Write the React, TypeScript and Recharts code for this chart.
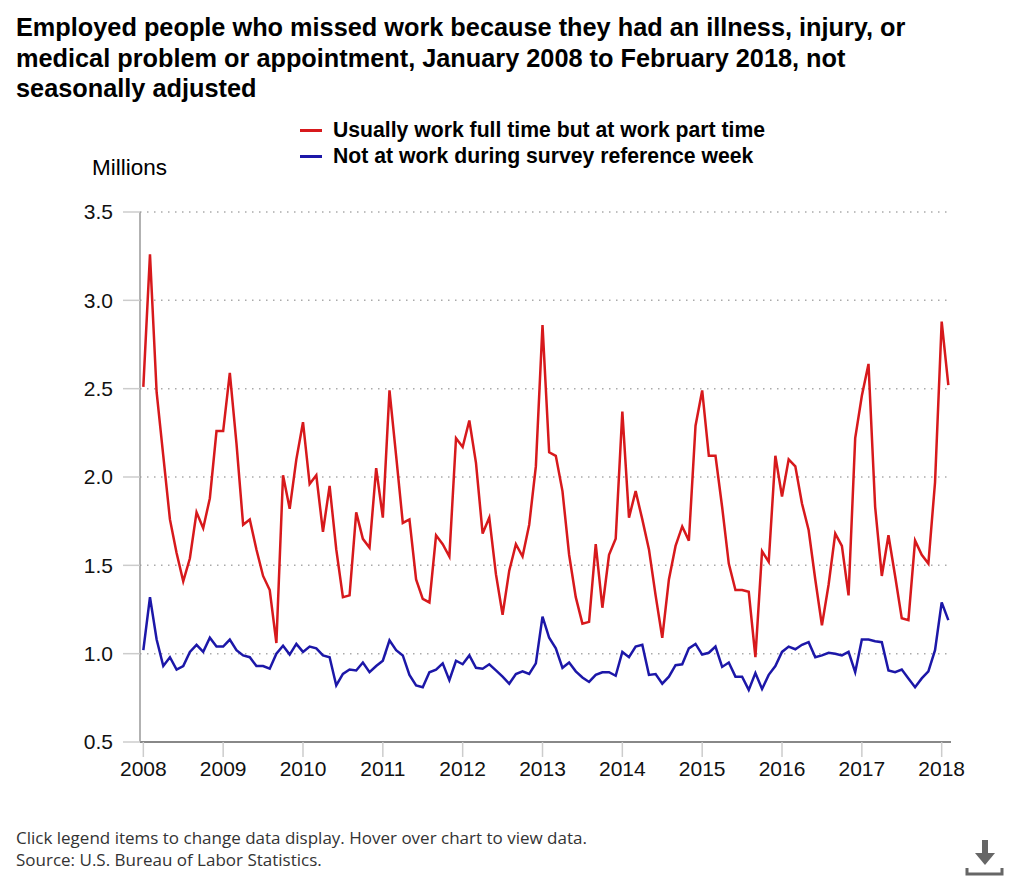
import React from 'react';
import { LineChart, Line, XAxis, YAxis, CartesianGrid } from 'recharts';

// monthly values, Jan 2008 .. Feb 2018 (millions)
const FULL_TIME_PART = [
  // 2008
  2.51, 3.26, 2.48, 2.12, 1.76, 1.57, 1.41, 1.54, 1.80, 1.71, 1.88, 2.26,
  // 2009
  2.26, 2.59, 2.19, 1.73, 1.76, 1.59, 1.44, 1.36, 1.06, 2.01, 1.82, 2.10,
  // 2010
  2.31, 1.96, 2.01, 1.69, 1.95, 1.59, 1.32, 1.33, 1.80, 1.65, 1.60, 2.05,
  // 2011
  1.77, 2.49, 2.12, 1.74, 1.76, 1.42, 1.31, 1.29, 1.67, 1.62, 1.55, 2.22,
  // 2012
  2.17, 2.32, 2.08, 1.68, 1.77, 1.45, 1.22, 1.47, 1.62, 1.55, 1.73, 2.06,
  // 2013
  2.86, 2.14, 2.12, 1.92, 1.56, 1.32, 1.17, 1.18, 1.62, 1.26, 1.56, 1.65,
  // 2014
  2.37, 1.77, 1.92, 1.76, 1.59, 1.33, 1.09, 1.42, 1.61, 1.72, 1.64, 2.29,
  // 2015
  2.49, 2.12, 2.12, 1.83, 1.51, 1.36, 1.36, 1.35, 0.98, 1.58, 1.52, 2.12,
  // 2016
  1.89, 2.10, 2.06, 1.85, 1.70, 1.42, 1.16, 1.39, 1.68, 1.61, 1.33, 2.22,
  // 2017
  2.46, 2.64, 1.83, 1.44, 1.67, 1.44, 1.20, 1.19, 1.64, 1.56, 1.51, 1.97,
  // 2018
  2.88, 2.52,
];

const NOT_AT_WORK = [
  // 2008
  1.02, 1.32, 1.08, 0.93, 0.98, 0.91, 0.93, 1.01, 1.05, 1.01, 1.09, 1.04,
  // 2009
  1.04, 1.08, 1.02, 0.99, 0.98, 0.93, 0.93, 0.915, 1.00, 1.045, 0.995, 1.055,
  // 2010
  1.01, 1.04, 1.03, 0.99, 0.98, 0.82, 0.885, 0.91, 0.905, 0.95, 0.895, 0.93,
  // 2011
  0.96, 1.075, 1.02, 0.99, 0.88, 0.82, 0.81, 0.895, 0.91, 0.945, 0.85, 0.96,
  // 2012
  0.94, 0.99, 0.92, 0.915, 0.94, 0.905, 0.87, 0.83, 0.885, 0.90, 0.885, 0.945,
  // 2013
  1.21, 1.09, 1.03, 0.92, 0.95, 0.90, 0.865, 0.84, 0.88, 0.895, 0.895, 0.875,
  // 2014
  1.01, 0.98, 1.04, 1.05, 0.88, 0.885, 0.83, 0.87, 0.935, 0.94, 1.03, 1.055,
  // 2015
  0.995, 1.005, 1.04, 0.925, 0.95, 0.87, 0.87, 0.795, 0.89, 0.80, 0.88, 0.93,
  // 2016
  1.01, 1.04, 1.025, 1.05, 1.065, 0.98, 0.99, 1.005, 1.0, 0.99, 1.01, 0.895,
  // 2017
  1.08, 1.08, 1.07, 1.065, 0.905, 0.895, 0.91, 0.86, 0.81, 0.86, 0.90, 1.02,
  // 2018
  1.29, 1.19,
];

const START_YEAR = 2008;
const YEAR_TICKS = [2008, 2009, 2010, 2011, 2012, 2013, 2014, 2015, 2016, 2017, 2018];
const VALUE_TICKS = [0.5, 1.0, 1.5, 2.0, 2.5, 3.0, 3.5];

const RED = '#d7191c';
const BLUE = '#1c17a8';
const FONT = '"Liberation Sans", Arial, Helvetica, sans-serif';

const data = FULL_TIME_PART.map((v, i) => ({
  m: i,
  fullTime: v,
  notAtWork: NOT_AT_WORK[i],
}));

const App: React.FC = () => {
  return (
    <div style={{ position: 'absolute', left: 0, top: 0, width: 1024, height: 883, background: '#fff', fontFamily: FONT }}>
      <div style={{ position: 'absolute', left: 16, top: 12, fontSize: 25.3, fontWeight: 700, lineHeight: '30.5px', color: '#000', whiteSpace: 'nowrap' }}>
        Employed people who missed work because they had an illness, injury, or<br />
        medical problem or appointment, January 2008 to February 2018, not<br />
        seasonally adjusted
      </div>

      {/* legend */}
      <div style={{ position: 'absolute', left: 300, top: 117, fontSize: 21.2, fontWeight: 700, lineHeight: '26px', color: '#000' }}>
        {[
          { label: 'Usually work full time but at work part time', color: RED },
          { label: 'Not at work during survey reference week', color: BLUE },
        ].map((item) => (
          <div key={item.label} style={{ display: 'flex', alignItems: 'center', whiteSpace: 'nowrap' }}>
            <span style={{ display: 'inline-block', width: 22, height: 3, background: item.color, marginRight: 11 }} />
            {item.label}
          </div>
        ))}
      </div>

      <div style={{ position: 'absolute', left: 92, top: 155, fontSize: 22.5, color: '#000' }}>Millions</div>

      <div style={{ position: 'absolute', left: 0, top: 0 }}>
        <LineChart width={1024} height={800} data={data} margin={{ top: 212, right: 73, bottom: 18, left: 80 }}>
          <CartesianGrid vertical={false} stroke="#aaa" strokeDasharray="1.5 5.5" strokeWidth={1.5} />
          <XAxis
            dataKey="m"
            type="number"
            domain={[-0.5, 121.4]}
            ticks={YEAR_TICKS.map((y) => (y - START_YEAR) * 12)}
            tickFormatter={(m: number) => String(START_YEAR + m / 12)}
            height={40}
            stroke="#888"
            strokeWidth={2}
            tickLine={{ stroke: '#ccc', strokeWidth: 1.5 }}
            tickSize={15}
            tickMargin={4}
            tick={{ fill: '#111', fontSize: 21, fontFamily: FONT }}
          />
          <YAxis
            type="number"
            domain={[0.5, 3.5]}
            ticks={VALUE_TICKS}
            tickFormatter={(v: number) => v.toFixed(1)}
            width={60}
            stroke="#999"
            strokeWidth={1.5}
            tickLine={{ stroke: '#ccc', strokeWidth: 1.5 }}
            tickSize={17}
            tickMargin={10}
            tick={{ fill: '#111', fontSize: 21, fontFamily: FONT }}
          />
          <Line type="linear" dataKey="fullTime" stroke={RED} strokeWidth={2.5} dot={false} isAnimationActive={false} />
          <Line type="linear" dataKey="notAtWork" stroke={BLUE} strokeWidth={2.5} dot={false} isAnimationActive={false} />
        </LineChart>
      </div>

      <div style={{ position: 'absolute', left: 16, top: 827, fontSize: 17, lineHeight: '22px', color: '#333', fontFamily: '"Open Sans", sans-serif', whiteSpace: 'nowrap' }}>
        Click legend items to change data display. Hover over chart to view data.<br />
        Source: U.S. Bureau of Labor Statistics.
      </div>

      {/* download icon */}
      <svg style={{ position: 'absolute', left: 962, top: 836 }} width={44} height={44}>
        <rect x={20} y={4} width={6} height={14} fill="#666" />
        <polygon points="13,17 33,17 23,29" fill="#666" />
        <polyline points="5,32 5,38 40,38 40,32" fill="none" stroke="#666" strokeWidth={3} />
      </svg>
    </div>
  );
};

export default App;
